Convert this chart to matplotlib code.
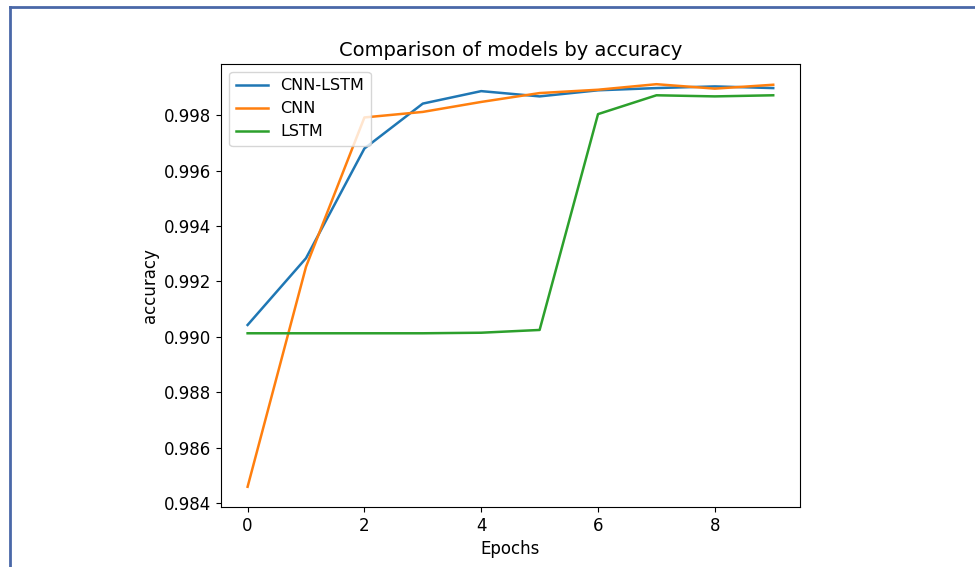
import numpy as np
import matplotlib
matplotlib.use('Agg')
import matplotlib.pyplot as plt
from matplotlib.lines import Line2D

epochs = np.arange(10)
cnn_lstm = [0.99043, 0.99284, 0.99680, 0.99842, 0.99887, 0.99868, 0.99890, 0.99898, 0.99904, 0.99898]
cnn = [0.98459, 0.99253, 0.99792, 0.99812, 0.99848, 0.99880, 0.99892, 0.99912, 0.99896, 0.99910]
lstm = [0.99013, 0.99013, 0.99013, 0.99013, 0.99015, 0.99025, 0.99804, 0.99872, 0.99868, 0.99872]

plt.rcParams['font.size'] = 12

fig = plt.figure(figsize=(9.75, 5.67), dpi=100)
ax = fig.add_axes([0.227, 0.106, 0.593, 0.781])

ax.plot(epochs, cnn_lstm, label='CNN-LSTM', lw=1.8)
ax.plot(epochs, cnn, label='CNN', lw=1.8)
ax.plot(epochs, lstm, label='LSTM', lw=1.8)

ax.set_title('Comparison of models by accuracy', fontsize=14)
ax.set_xlabel('Epochs')
ax.set_ylabel('accuracy')
ax.set_xticks([0, 2, 4, 6, 8])
ax.legend(loc='upper left', fontsize=11.5)

# blue frame of the screenshot
fig.add_artist(Line2D([0.010, 0.010], [0.0, 0.988], transform=fig.transFigure,
                      color='#4a68a8', lw=2))
fig.add_artist(Line2D([0.010, 1.0], [0.988, 0.988], transform=fig.transFigure,
                      color='#4a68a8', lw=2))

fig.savefig('out.png', dpi=100)
